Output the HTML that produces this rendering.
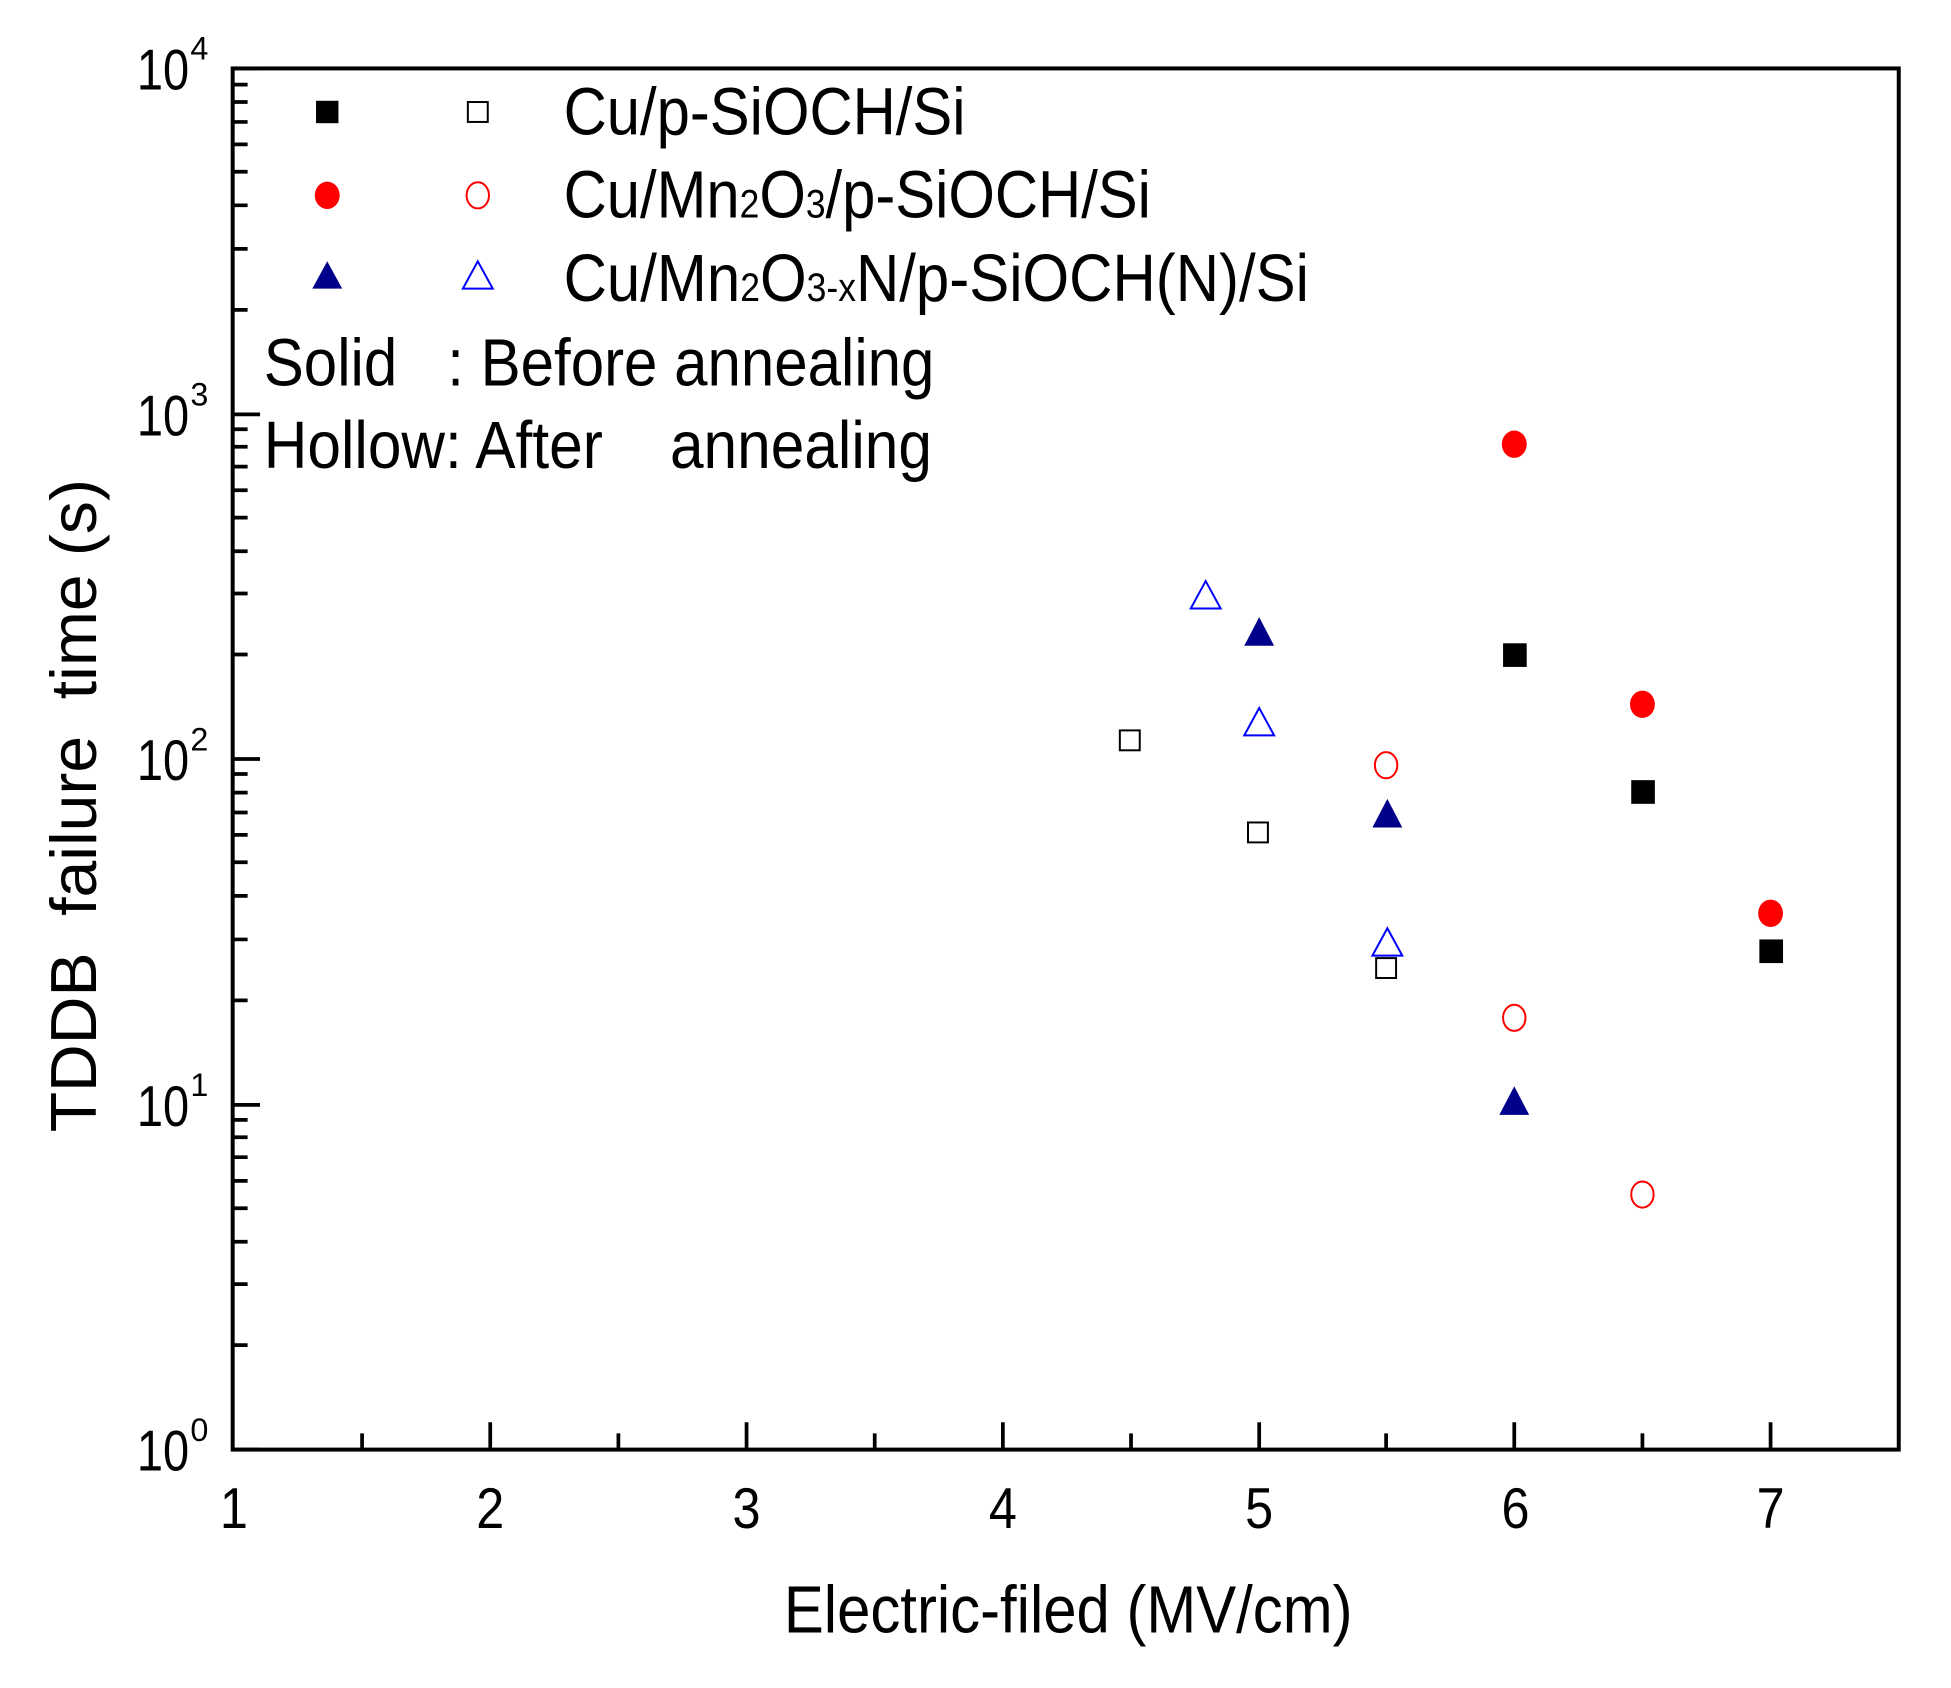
<!DOCTYPE html>
<html><head><meta charset="utf-8"><style>
html,body{margin:0;padding:0;background:#fff;}
svg{display:block;}
text{font-family:"Liberation Sans",Arial,sans-serif;fill:#000;white-space:pre;}
</style></head><body>
<svg width="1951" height="1688" viewBox="0 0 1568 1356.6" preserveAspectRatio="none" xmlns="http://www.w3.org/2000/svg">
<rect width="1568" height="1356.6" fill="#fff"/>
<rect x="187" y="55" width="1339" height="1110" fill="none" stroke="#000" stroke-width="3.2"/>
<g stroke="#000" stroke-width="3">
<path d="M394 1165v-22M600 1165v-22M806 1165v-22M1012 1165v-22M1217 1165v-22M1423 1165v-22"/>
<path d="M291 1165v-13M497 1165v-13M703 1165v-13M909 1165v-13M1114 1165v-13M1320 1165v-13"/>
</g>
<g font-size="46" text-anchor="middle">
<text x="188" y="1228" transform="translate(188,0) scale(0.88,1) translate(-188,0)">1</text>
<text x="394" y="1228" transform="translate(394,0) scale(0.88,1) translate(-394,0)">2</text>
<text x="600" y="1228" transform="translate(600,0) scale(0.88,1) translate(-600,0)">3</text>
<text x="806" y="1228" transform="translate(806,0) scale(0.88,1) translate(-806,0)">4</text>
<text x="1012" y="1228" transform="translate(1012,0) scale(0.88,1) translate(-1012,0)">5</text>
<text x="1218" y="1228" transform="translate(1218,0) scale(0.88,1) translate(-1218,0)">6</text>
<text x="1423" y="1228" transform="translate(1423,0) scale(0.88,1) translate(-1423,0)">7</text>
</g>
<g font-size="46">
<text x="110" y="1182" textLength="42" lengthAdjust="spacingAndGlyphs">10</text><text x="153" y="1158" font-size="26">0</text>
<text x="110" y="905" textLength="42" lengthAdjust="spacingAndGlyphs">10</text><text x="153" y="881" font-size="26">1</text>
<text x="110" y="627" textLength="42" lengthAdjust="spacingAndGlyphs">10</text><text x="153" y="603" font-size="26">2</text>
<text x="110" y="350" textLength="42" lengthAdjust="spacingAndGlyphs">10</text><text x="153" y="326" font-size="26">3</text>
<text x="110" y="72" textLength="42" lengthAdjust="spacingAndGlyphs">10</text><text x="153" y="48" font-size="26">4</text>
</g>
<text x="630" y="1312" font-size="54" textLength="457" lengthAdjust="spacingAndGlyphs">Electric-filed (MV/cm)</text>
<text transform="translate(77,910) rotate(-90)" x="0" y="0" font-size="52" textLength="525" lengthAdjust="spacingAndGlyphs">TDDB  failure  time (s)</text>
<rect x="254" y="81" width="18" height="18" fill="#000"/>
<rect x="376" y="82" width="16" height="16" fill="none" stroke="#000" stroke-width="1.6"/>
<text x="453" y="108" font-size="54" textLength="323" lengthAdjust="spacingAndGlyphs">Cu/p-SiOCH/Si</text>
<ellipse cx="263" cy="157" rx="10" ry="11" fill="#f00"/>
<ellipse cx="384" cy="157" rx="9" ry="10.5" fill="none" stroke="#f00" stroke-width="1.6"/>
<text x="453" y="175" font-size="54" textLength="472" lengthAdjust="spacingAndGlyphs">Cu/Mn<tspan font-size="32">2</tspan>O<tspan font-size="32">3</tspan>/p-SiOCH/Si</text>
<path d="M263 210 L275 232 L251 232 Z" fill="#00008b"/>
<path d="M384 210 L396 232 L372 232 Z" fill="none" stroke="#00f" stroke-width="1.6"/>
<text x="453" y="242" font-size="54" textLength="599" lengthAdjust="spacingAndGlyphs">Cu/Mn<tspan font-size="32">2</tspan>O<tspan font-size="32">3-x</tspan>N/p-SiOCH(N)/Si</text>
<text x="212" y="310" font-size="54" textLength="539" lengthAdjust="spacingAndGlyphs" xml:space="preserve">Solid   : Before annealing</text>
<text x="212" y="376" font-size="54" textLength="537" lengthAdjust="spacingAndGlyphs" xml:space="preserve">Hollow: After    annealing</text>
<g fill="#000">
<rect x="1208" y="517" width="19" height="19"/>
<rect x="1311" y="627" width="19" height="19"/>
<rect x="1414" y="755" width="19" height="19"/>
</g>
<g fill="none" stroke="#000" stroke-width="1.6">
<rect x="900" y="587" width="16" height="16"/>
<rect x="1003" y="661" width="16" height="16"/>
<rect x="1106" y="770" width="16" height="16"/>
</g>
<g fill="#f00">
<ellipse cx="1217" cy="357" rx="10" ry="11"/>
<ellipse cx="1320" cy="566" rx="10" ry="11"/>
<ellipse cx="1423" cy="734" rx="10" ry="11"/>
</g>
<g fill="none" stroke="#f00" stroke-width="1.6">
<ellipse cx="1114" cy="615" rx="9" ry="10.5"/>
<ellipse cx="1217" cy="818" rx="9" ry="10.5"/>
<ellipse cx="1320" cy="960" rx="9" ry="10.5"/>
</g>
<g fill="#00008b">
<path d="M1012 496 L1024 519 L1000 519 Z"/>
<path d="M1115 642 L1127 665 L1103 665 Z"/>
<path d="M1217 873 L1229 896 L1205 896 Z"/>
</g>
<g fill="none" stroke="#00f" stroke-width="1.6">
<path d="M969 467 L981 489 L957 489 Z"/>
<path d="M1012 569 L1024 591 L1000 591 Z"/>
<path d="M1115 746 L1127 768 L1103 768 Z"/>
</g>
<g stroke="#000" stroke-width="3">
<path d="M187 1165h22M187 888h22M187 610h22M187 333h22M187 55h22"/>
<path d="M187 1081h12M187 1032h12M187 998h12M187 971h12M187 949h12M187 930h12M187 914h12M187 900h12
M187 804h12M187 755h12M187 720h12M187 693h12M187 671h12M187 653h12M187 637h12M187 622h12
M187 526h12M187 477h12M187 443h12M187 416h12M187 394h12M187 375h12M187 359h12M187 345h12
M187 249h12M187 200h12M187 165h12M187 138h12M187 116h12M187 98h12M187 82h12M187 68h12"/>
</g>
</svg>
</body></html>
